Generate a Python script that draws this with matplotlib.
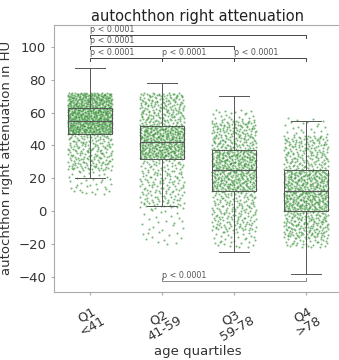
import numpy as np
import matplotlib
matplotlib.use("Agg")
from matplotlib import pyplot as plt

# age groups
groups = ["Q1\n<41", "Q2\n41-59", "Q3\n59-78", "Q4\n>78"]

# box summary: whisker low, q1, median, q3, whisker high
whislo = [20, 3, -25, -38]
q1 = [47, 32, 12, 0]
med = [55, 42, 25, 12]
q3 = [63, 52, 37, 25]
whishi = [87, 78, 70, 55]

# point cloud quantile knots per group (probability, value)
knot_p = [0.0, 0.04, 0.25, 0.5, 0.75, 0.97, 1.0]
cloud_q1 = [10, 25, 47, 55, 63, 71, 72]
cloud_q2 = [-20, 2, 32, 42, 52, 70, 72]
cloud_q3 = [-22, -12, 12, 25, 37, 55, 62]
cloud_q4 = [-22, -16, 0, 12, 25, 46, 57]
n_points = [900, 800, 800, 800]

# significance brackets: (from group, to group, height)
pairs = [(0, 1, 93.2), (1, 2, 93.2), (2, 3, 93.2), (0, 2, 100.2), (0, 3, 107.1)]
pair_low = (1, 3, -42.4)
p_text = "p < 0.0001"


def halton(n, base):
    # evenly spread sequence in [0, 1), used to place the dense point cloud
    out = np.zeros(n)
    for i in range(n):
        f, r, k = 1.0, 0.0, i + 1
        while k > 0:
            f /= base
            r += f * (k % base)
            k //= base
        out[i] = r
    return out


fig = plt.figure(figsize=(3.39, 3.6), dpi=100)
ax = fig.add_axes([0.159, 0.189, 0.85, 0.742])

clouds = [cloud_q1, cloud_q2, cloud_q3, cloud_q4]
for i, cloud in enumerate(clouds):
    n = n_points[i]
    u = halton(n, 3)
    yv = np.interp(u, knot_p, cloud)
    xj = (halton(n, 2) - 0.5) * 0.62
    ax.scatter(i + xj, yv, s=2.2, color="#2a8a2a", alpha=0.6, linewidths=0, zorder=1)

stats = []
for i in range(4):
    stats.append(dict(whislo=whislo[i], q1=q1[i], med=med[i], q3=q3[i], whishi=whishi[i], fliers=[]))
lc = "#555555"
ax.bxp(stats, positions=range(4), widths=0.62, showfliers=False, patch_artist=False,
       boxprops=dict(color=lc, linewidth=0.7),
       whiskerprops=dict(color=lc, linewidth=0.7),
       capprops=dict(color=lc, linewidth=0.7),
       medianprops=dict(color=lc, linewidth=0.8),
       capwidths=0.42, manage_ticks=False, zorder=2)

bc = "#444444"
for a, b, h in pairs:
    ax.plot([a, a, b, b], [h - 1.6, h, h, h - 1.6], color=bc, lw=0.7, zorder=3)
    ax.text(a, h + 0.6, p_text, fontsize=5.8, color="#555555", ha="left", va="bottom")
a, b, h = pair_low
ax.plot([a, a, b, b], [h + 1.6, h, h, h + 1.6], color="#888888", lw=0.7, zorder=3)
ax.text(a, h + 0.6, p_text, fontsize=5.8, color="#555555", ha="left", va="bottom")

ax.set_xlim(-0.5, 3.5)
ax.set_ylim(-49.1, 113.3)
ax.set_yticks([-40, -20, 0, 20, 40, 60, 80, 100])
ax.set_xticks(range(4))
ax.set_xticklabels(groups, rotation=30, ha="center", va="top", fontsize=9.3, color="#333333",
                   linespacing=0.9)
ax.tick_params(axis="y", labelsize=9.5, labelcolor="#333333", length=2, color="#aaaaaa")
ax.tick_params(axis="x", length=2, color="#aaaaaa", pad=6)
for s in ax.spines.values():
    s.set_color("#aaaaaa")
    s.set_linewidth(0.8)
ax.spines["right"].set_visible(False)

ax.set_title("autochthon right attenuation", fontsize=10.5, color="#222222", pad=3)
ax.set_xlabel("age quartiles", fontsize=9.5, color="#333333", labelpad=1)
ax.set_ylabel("autochthon right attenuation in HU", fontsize=9.5, color="#333333")

fig.savefig("out.png", dpi=100)
